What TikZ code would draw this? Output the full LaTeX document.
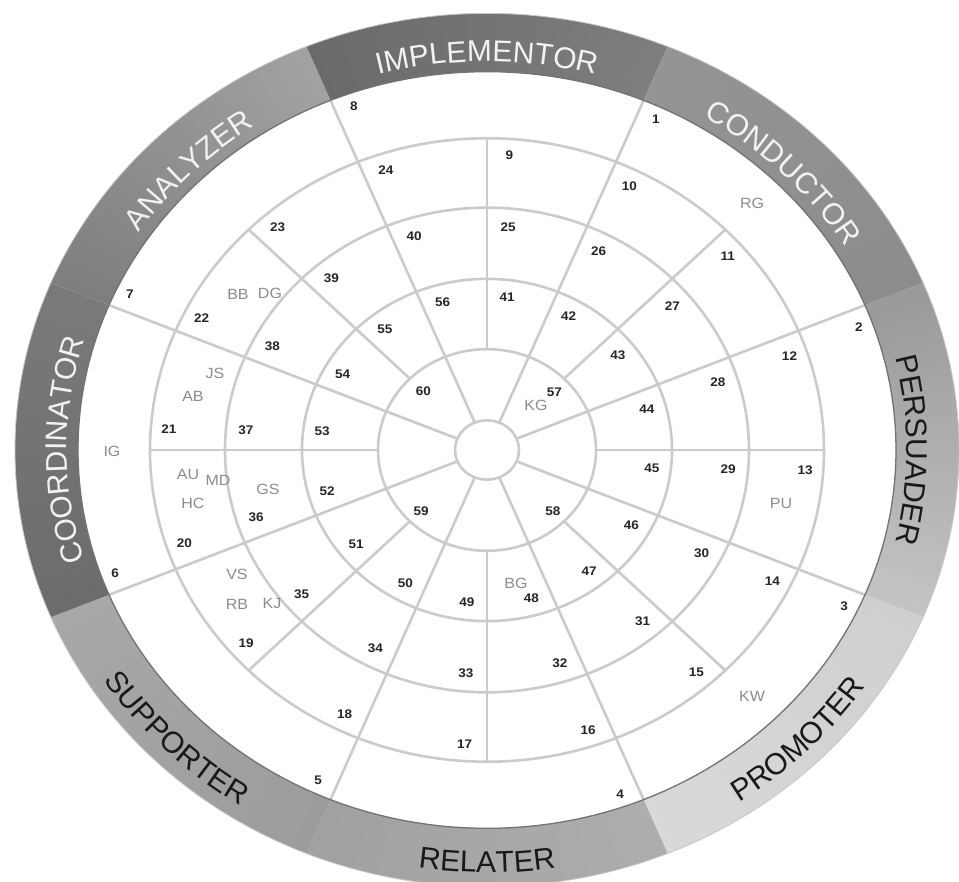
\documentclass[tikz,border=0pt]{standalone}
\usepackage{fontspec}
\setmainfont{Liberation Sans}
\usetikzlibrary{decorations.text}
\definecolor{gridc}{HTML}{CBCBCB}
\newcommand\bandfont{\fontsize{30}{30}\selectfont}
\begin{document}
\begin{tikzpicture}[x=1pt,y=1pt,
  num/.style={font=\bfseries\fontsize{13.5}{13.5}\selectfont, text=black!85, inner sep=0pt, yscale=0.925},
  ini/.style={font=\fontsize{16}{16}\selectfont, text=black!45, inner sep=0pt, yscale=0.925},
  gridline/.style={draw=gridc, line width=2.6pt},
  uplabel/.style={decorate, decoration={text along path, text align=center, text color=#1}},
]
\useasboundingbox (-487,-432) rectangle (472,450);
\fill[white] (-487,-432) rectangle (472,450);
\clip (-487,-432) rectangle (472,450);

\begin{scope}[yscale=0.925]
  % band segments with smooth angular shading
  \foreach \s/\ca/\cb in {112.5/6A6A6A/7E7E7E, 67.5/949494/8C8C8C, 22.5/999999/C4C4C4,
                          -22.5/CFCFCF/D9D9D9, -67.5/ADADAD/A1A1A1, -112.5/9C9C9C/A8A8A8,
                          -157.5/6C6C6C/7A7A7A, -202.5/7E7E7E/A2A2A2} {
    \definecolor{ca}{HTML}{\ca}
    \definecolor{cb}{HTML}{\cb}
    \foreach \j in {0,...,44} {
      \pgfmathtruncatemacro\p{100*(\j+0.5)/45}
      \pgfmathsetmacro\aa{\s-\j}
      \pgfmathsetmacro\ab{\s-\j-(\j<44)*0.4-1}
      \fill[cb!\p!ca] (\aa:472) arc[start angle=\aa, end angle=\ab, radius=472]
        -- (\ab:409) arc[start angle=\ab, end angle=\aa, radius=409] -- cycle;
    }
  }
  % grid
  \foreach \r in {32,109,185,262,337}
    \draw[gridline] (0,0) circle[radius=\r];
  \foreach \a in {22.5,67.5,...,337.5}
    \draw[gridline] (\a:32) -- (\a:409);
  \foreach \a in {0,45,...,315}
    \draw[gridline] (\a:109) -- (\a:337);
  \draw[black!55, line width=1.3pt] (0,0) circle[radius=409];
  \draw[black!22, line width=0.8pt] (0,0) circle[radius=472];
\end{scope}

% band labels
\path[uplabel=white!95!black, decoration={text={|\bandfont|IMPLEMENTOR}}]
  ({420*cos(112.5)},{388.5*sin(112.5)}) arc[start angle=112.5, end angle=67.5, x radius=420, y radius=388.5];
\path[uplabel=white!95!black, decoration={text={|\bandfont|CONDUCTOR}}]
  ({420*cos(67.5)},{388.5*sin(67.5)}) arc[start angle=67.5, end angle=22.5, x radius=420, y radius=388.5];
\path[uplabel=black!90, decoration={text={|\bandfont|PERSUADER}}]
  ({420*cos(22.5)},{388.5*sin(22.5)}) arc[start angle=22.5, end angle=-22.5, x radius=420, y radius=388.5];
\path[uplabel=white!95!black, decoration={text={|\bandfont|COORDINATOR}}]
  ({420*cos(202.5)},{388.5*sin(202.5)}) arc[start angle=202.5, end angle=157.5, x radius=420, y radius=388.5];
\path[uplabel=white!95!black, decoration={text={|\bandfont|ANALYZER}}]
  ({420*cos(157.5)},{388.5*sin(157.5)}) arc[start angle=157.5, end angle=112.5, x radius=420, y radius=388.5];
\path[uplabel=black!90, decoration={text={|\bandfont|PROMOTER}}]
  ({457*cos(-67.5)},{422.7*sin(-67.5)}) arc[start angle=-67.5, end angle=-22.5, x radius=457, y radius=422.7];
\path[uplabel=black!90, decoration={text={|\bandfont|RELATER}}]
  ({457*cos(-112.5)},{422.7*sin(-112.5)}) arc[start angle=-112.5, end angle=-67.5, x radius=457, y radius=422.7];
\path[uplabel=black!90, decoration={text={|\bandfont|SUPPORTER}}]
  ({457*cos(-157.5)},{422.7*sin(-157.5)}) arc[start angle=-157.5, end angle=-112.5, x radius=457, y radius=422.7];

% numbers
\foreach \n in {1,...,8} {
  \pgfmathsetmacro\a{67.5-45*(\n-1)-2.8}
  \node[num] (n\n) at ({395*cos(\a)},{0.925*395*sin(\a)}) {\n};
}
\foreach \n in {9,...,24} {
  \pgfmathsetmacro\a{90-22.5*(\n-9)-4}
  \node[num] (n\n) at ({319*cos(\a)},{0.925*319*sin(\a)}) {\n};
}
\foreach \n in {25,...,40} {
  \pgfmathsetmacro\a{90-22.5*(\n-25)-5}
  \node[num] (n\n) at ({242*cos(\a)},{0.925*242*sin(\a)}) {\n};
}
\foreach \n in {41,...,56} {
  \pgfmathsetmacro\a{90-22.5*(\n-41)-7}
  \node[num] (n\n) at ({166*cos(\a)},{0.925*166*sin(\a)}) {\n};
}
\node[num] (n57) at ({92*cos(43)},{0.925*92*sin(43)}) {57};
\node[num] (n58) at ({93*cos(-45)},{0.925*93*sin(-45)}) {58};
\node[num] (n59) at ({93*cos(-135)},{0.925*93*sin(-135)}) {59};
\node[num] (n60) at ({90*cos(135)},{0.925*90*sin(135)}) {60};

% initials
\node[ini] (iRG) at (265,247) {RG};
\node[ini] (iPU) at (294,-53) {PU};
\node[ini] (iKW) at (265,-246) {KW};
\node[ini] (iBG) at (29,-133) {BG};
\node[ini] (iKG) at (49,45) {KG};
\node[ini] (iGS) at (-219,-39) {GS};
\node[ini] (iAU) at (-299,-24) {AU};
\node[ini] (iMD) at (-269,-30) {MD};
\node[ini] (iHC) at (-294,-53) {HC};
\node[ini] (iVS) at (-250,-124) {VS};
\node[ini] (iRB) at (-250,-154) {RB};
\node[ini] (iKJ) at (-215,-153) {KJ};
\node[ini] (iIG) at (-375,-1) {IG};
\node[ini] (iJS) at (-272,77) {JS};
\node[ini] (iAB) at (-294,54) {AB};
\node[ini] (iBB) at (-249,156) {BB};
\node[ini] (iDG) at (-217,157) {DG};
\end{tikzpicture}
\end{document}
